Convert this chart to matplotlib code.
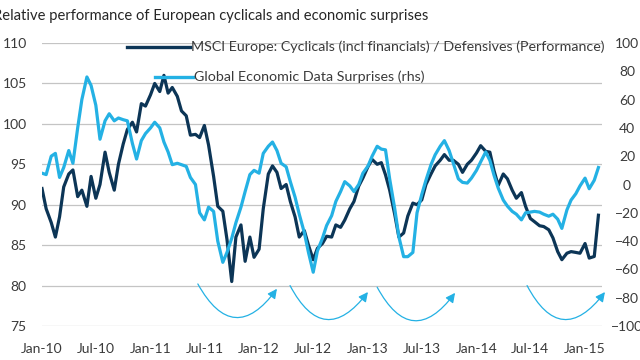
import matplotlib
matplotlib.use("Agg")
import matplotlib.pyplot as plt
import matplotlib.dates as mdates
from matplotlib.lines import Line2D
import pandas as pd

plt.rcParams['font.family'] = ['Lato', 'DejaVu Sans']

# semi-monthly observations, Jan 2010 .. mid Feb 2015
dates = pd.date_range('2010-01-01', periods=124, freq='SMS')

cyclicals = [
    92.0, 89.5, 87.8, 86.0, 88.5, 92.2, 93.8, 94.3, 91.0, 91.8, 89.8, 93.5, 90.8, 92.5, 96.5, 94.0,
    91.8, 95.0, 97.5, 99.3, 100.2, 99.0, 102.5, 102.2, 103.6, 105.0, 104.0, 106.0, 103.8, 104.5, 103.4, 101.6,
    101.0, 98.6, 98.7, 98.3, 99.8, 97.4, 93.5, 89.8, 89.2, 85.7, 80.5, 86.0, 87.5, 83.0, 86.0, 83.5,
    84.5, 89.5, 93.8, 94.8, 94.0, 92.0, 92.5, 90.4, 88.5, 86.0, 86.8, 85.0, 83.2, 84.6, 85.2,
    86.1, 86.0, 87.5, 87.2, 88.1, 89.5, 90.4, 92.3, 93.3, 94.7, 95.6, 95.0, 95.2, 93.7, 91.8, 88.8,
    86.0, 86.5, 88.6, 90.2, 90.0, 90.6, 92.5, 93.8, 94.8, 95.5, 96.2, 95.5, 95.5, 95.0, 94.0,
    95.0, 95.5, 96.4, 97.3, 96.6, 96.5, 94.2, 92.4, 93.8, 93.2, 91.8, 90.8, 91.5, 89.8, 88.3,
    87.9, 87.4, 87.3, 86.9, 85.9, 84.2, 83.2, 84.0, 84.2, 84.1, 84.0, 85.2, 83.4, 83.6, 88.7,
]

surprises = [
    8, 7, 20, 22, 5, 12, 24, 15, 40, 60, 76, 70, 56, 32, 45, 50,
    45, 47, 45.8, 45, 29, 18, 31, 36, 40, 44, 40, 30, 23, 14, 15, 14,
    12.8, 5, 0, -20, -25, -16, -19, -40, -55, -48, -38, -27, -16, -5, 7, 10,
    8, 22, 27, 30, 24, 15, 12.5, 2, -9, -21, -34, -48, -62, -47, -38,
    -29, -22, -12, -5, 2, -1, -5, 0, 8, 13, 20, 27, 25, 24.5, 4, -17,
    -37, -51, -51, -48, -20, -7, 3, 14, 21, 27, 31, 24, 15, 4, 1.5,
    1, 4.5, 10, 16, 23, 17, 6.5, -2.5, -11, -15.3, -19, -21, -25, -20, -19.5,
    -19, -19.5, -21, -22.4, -21, -24.5, -31, -18, -11, -6.5, -1, 4.5, -3, 3, 12,
]

# cycle arrows under the chart: (start date, start value, tip date, tip value)
arrows = [
    ('2011-06-09', 80.2, '2012-03-01', 79.6),
    ('2012-04-14', 80.0, '2013-01-01', 79.2),
    ('2013-02-01', 79.8, '2013-10-21', 79.1),
    ('2014-06-20', 80.0, '2015-03-09', 79.2),
]

dark = '#0c3556'
light = '#24b1e4'
grid_col = '#c4c4c4'
txt_col = '#3a3a3a'

fig = plt.figure(figsize=(6.4, 3.6), dpi=100)
ax = fig.add_axes([42 / 640, 1 - 326 / 360, 560 / 640, 283 / 360])
ax2 = ax.twinx()

ax.plot(dates, cyclicals, color=dark, lw=2.3, solid_joinstyle='round')
ax2.plot(dates, surprises, color=light, lw=2.3, solid_joinstyle='round')

ax.set_ylim(75, 110)
ax2.set_ylim(-100, 100)
ax.set_xlim(pd.Timestamp('2010-01-01'), pd.Timestamp('2015-02-27'))
ax.set_yticks(range(75, 111, 5))
ax2.set_yticks(range(-100, 101, 20))

ax.xaxis.set_major_locator(mdates.MonthLocator(bymonth=[1, 7]))
ax.xaxis.set_major_formatter(mdates.DateFormatter('%b-%y'))

ax.grid(axis='y', color=grid_col, lw=0.9)
ax.set_axisbelow(True)
for a in (ax, ax2):
    for s in a.spines.values():
        s.set_visible(False)
    a.tick_params(length=0, labelsize=10, labelcolor=txt_col)
ax.tick_params(axis='y', pad=11)
ax.tick_params(axis='x', pad=12)
ax2.tick_params(axis='y', pad=18)
for lab in ax2.get_yticklabels():
    lab.set_horizontalalignment('center')

for x0, y0, x1, y1 in arrows:
    ax.annotate('', xy=(mdates.date2num(pd.Timestamp(x1)), y1),
                xytext=(mdates.date2num(pd.Timestamp(x0)), y0),
                arrowprops=dict(arrowstyle='-|>', color=light, lw=0.9,
                                mutation_scale=14, shrinkA=0, shrinkB=0,
                                connectionstyle='arc3,rad=0.78'),
                annotation_clip=False)

# legend drawn by hand
fig.add_artist(Line2D([127 / 640, 190 / 640], [1 - 47 / 360] * 2, color=dark, lw=2.4))
fig.text(191 / 640, 1 - 47 / 360, 'MSCI Europe: Cyclicals (incl financials) / Defensives (Performance)',
         fontsize=10.3, color=txt_col, va='center', ha='left')
fig.add_artist(Line2D([155 / 640, 193 / 640], [1 - 77 / 360] * 2, color=light, lw=2.4))
fig.text(194 / 640, 1 - 77 / 360, 'Global Economic Data Surprises (rhs)',
         fontsize=10.3, color=txt_col, va='center', ha='left')

fig.text(-7 / 640, 1 - 16 / 360, 'Relative performance of European cyclicals and economic surprises',
         fontsize=10.6, color='#262626', va='center', ha='left')

fig.savefig('out.png', dpi=100)
